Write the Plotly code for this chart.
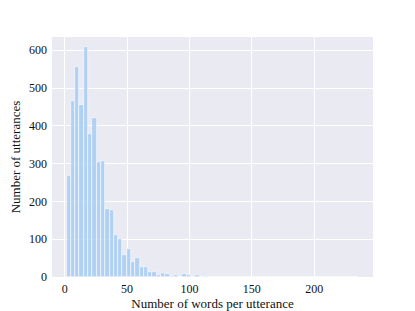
import plotly.graph_objects as go
import numpy as np

# Histogram bin counts (bins of equal width starting at ~1.5)
bin_start = 1.5
bin_end = 235.5
counts = [266, 466, 556, 455, 609, 379, 422, 305, 307, 179, 176, 112, 101, 57, 75,
          40, 51, 26, 27, 14, 13, 5, 11, 8, 2, 5, 1, 7, 4, 1, 4, 1, 2, 1, 0, 1,
          0, 1, 0, 0, 1, 0, 0, 0, 0, 1, 0, 0, 0, 0, 0, 0, 0, 0, 0, 0, 0, 0, 0, 0,
          0, 0, 0, 0, 0, 0, 0, 1]
x_ticks = [0, 50, 100, 150, 200]
y_ticks = [0, 100, 200, 300, 400, 500, 600]

n = len(counts)
width = (bin_end - bin_start) / n
centers = [bin_start + width * (i + 0.5) for i in range(n)]

fig = go.Figure(go.Bar(
    x=centers, y=counts, width=width,
    marker=dict(color="rgba(161,201,244,0.8)", line=dict(color="white", width=0.6)),
))
span = bin_end - bin_start
# the page body has an 8px default margin, so the figure is sized to fit inside it
fig.update_layout(
    width=407, height=303,
    margin=dict(l=44, r=42, t=29, b=34),
    paper_bgcolor="white", plot_bgcolor="#EAEAF2",
    font=dict(family="Liberation Serif", size=12, color="#111111"),
    showlegend=False, bargap=0,
)
fig.update_xaxes(
    range=[bin_start - 0.05 * span, bin_end + 0.05 * span], automargin=False,
    tickvals=x_ticks, showgrid=True, gridcolor="white", gridwidth=1.2,
    zeroline=False, ticks="", showline=False, ticklabelstandoff=3,
    tickfont=dict(family="Liberation Serif", size=12),
    title=dict(text="Number of words per utterance", font=dict(size=13), standoff=4),
)
fig.update_yaxes(
    range=[0, 635], tickvals=y_ticks, showgrid=True, gridcolor="white", gridwidth=1.2,
    zeroline=False, ticks="", showline=False, automargin=False, ticklabelstandoff=4,
    tickfont=dict(family="Liberation Serif", size=12),
    title=dict(text="Number of utterances", font=dict(size=13), standoff=6),
)
fig.write_html("out.html")
